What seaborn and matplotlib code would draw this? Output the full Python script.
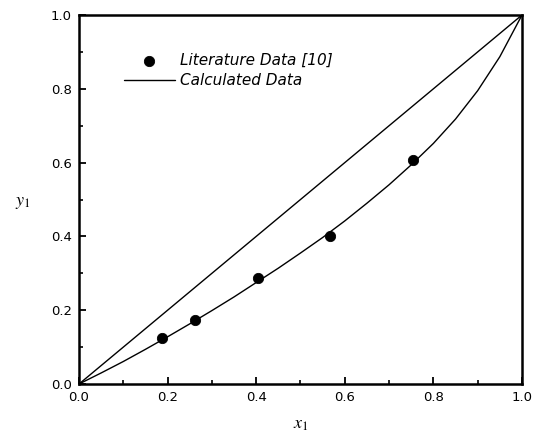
import matplotlib
matplotlib.use("Agg")
import matplotlib.pyplot as plt
import seaborn as sns
from matplotlib.ticker import MultipleLocator

# Literature data points
lit_x = [0.187, 0.262, 0.404, 0.567, 0.753]
lit_y = [0.125, 0.173, 0.287, 0.402, 0.607]

# Calculated curve
calc_x = [0.0, 0.05, 0.1, 0.15, 0.2, 0.25, 0.3, 0.35, 0.4, 0.45, 0.5,
          0.55, 0.6, 0.65, 0.7, 0.75, 0.8, 0.85, 0.9, 0.95, 1.0]
calc_y = [0.0, 0.03, 0.061, 0.094, 0.128, 0.163, 0.199, 0.236, 0.275, 0.314, 0.355,
          0.397, 0.442, 0.49, 0.54, 0.594, 0.652, 0.718, 0.795, 0.887, 1.0]

# Diagonal y = x
diag_x = [0.0, 1.0]
diag_y = [0.0, 1.0]

sns.set_style("ticks")
plt.rcParams["font.family"] = ["DejaVu Sans"]
plt.rcParams["mathtext.fontset"] = "stix"
plt.rcParams["text.color"] = "black"
plt.rcParams["axes.labelcolor"] = "black"
plt.rcParams["xtick.color"] = "black"
plt.rcParams["ytick.color"] = "black"

fig = plt.figure(figsize=(5.43, 4.44), dpi=100)
ax = fig.add_axes([0.1455, 0.1351, 0.8158, 0.8311])

sns.lineplot(x=diag_x, y=diag_y, ax=ax, color="black", linewidth=1.0)
sns.lineplot(x=calc_x, y=calc_y, ax=ax, color="black", linewidth=1.0,
             label="Calculated Data")
sns.scatterplot(x=lit_x, y=lit_y, ax=ax, color="black", s=55, edgecolor="black",
                label="Literature Data [10]", zorder=3)

ax.set_xlim(0, 1)
ax.set_ylim(0, 1)
ax.xaxis.set_major_locator(MultipleLocator(0.2))
ax.xaxis.set_minor_locator(MultipleLocator(0.1))
ax.yaxis.set_major_locator(MultipleLocator(0.2))
ax.yaxis.set_minor_locator(MultipleLocator(0.1))
ax.tick_params(which="major", direction="in", length=5, width=1.3, labelsize=9.5,
               pad=5)
ax.tick_params(which="minor", direction="in", length=3, width=1.2)
ax.xaxis.set_major_formatter(plt.FormatStrFormatter("%.1f"))
ax.yaxis.set_major_formatter(plt.FormatStrFormatter("%.1f"))
for sp in ax.spines.values():
    sp.set_linewidth(1.8)
    sp.set_color("black")

ax.set_xlabel("$x_1$", fontsize=13)
ax.xaxis.set_label_coords(0.5, -0.085)
ax.set_ylabel("$y_1$", fontsize=13, rotation=0)
ax.yaxis.set_label_coords(-0.128, 0.47)

handles, labels = ax.get_legend_handles_labels()
order = [labels.index("Literature Data [10]"), labels.index("Calculated Data")]
leg = ax.legend([handles[i] for i in order], [labels[i] for i in order],
                loc="upper left", bbox_to_anchor=(0.102, 0.898), frameon=False,
                borderpad=0, borderaxespad=0, handlelength=3.3,
                handletextpad=0.35, labelspacing=0.35,
                prop={"style": "italic", "size": 11})

fig.savefig("out.png", dpi=100)
